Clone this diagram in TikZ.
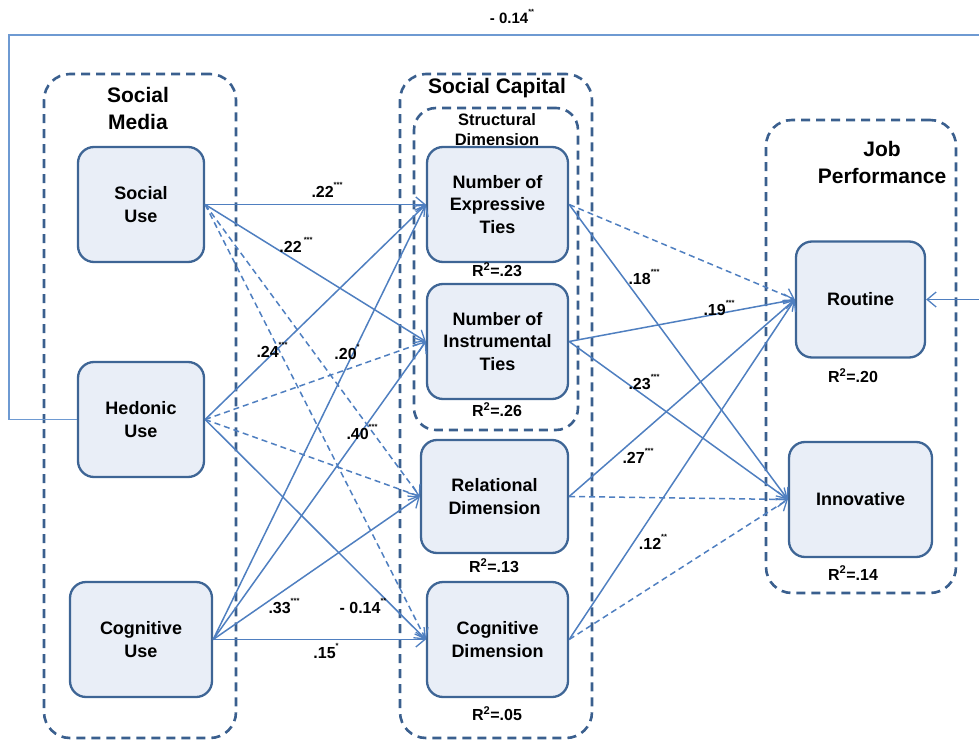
\documentclass[tikz,border=0pt]{standalone}
\usepackage{fontspec}
\setmainfont{Liberation Sans}
\usetikzlibrary{arrows.meta}
\definecolor{boxc}{HTML}{3E6595}
\definecolor{grpc}{HTML}{3A5F8E}
\definecolor{linec}{HTML}{4F7FC0}
\definecolor{toplinec}{HTML}{6E9AD2}
\definecolor{boxfill}{HTML}{E9EEF7}
\newcommand\sigst[1]{\raisebox{.6em}{\fontsize{7.5}{7.5}\selectfont #1}}
\begin{document}
\begin{tikzpicture}[x=1pt,y=-1pt,
  box/.style={draw=boxc, line width=2.3pt, fill=boxfill, rounded corners=16pt,
    font=\bfseries\fontsize{18}{22.5}\selectfont, align=center, inner sep=0pt,
    minimum width=126pt, minimum height=115pt},
  grp/.style={draw=grpc, line width=2.6pt, dash pattern=on 9pt off 6pt,
    rounded corners=26pt, inner sep=0pt},
  gtitle/.style={font=\bfseries\fontsize{21}{27}\selectfont, align=center, inner sep=0pt},
  stitle/.style={font=\bfseries\fontsize{16.5}{20}\selectfont, align=center, inner sep=0pt},
  rsq/.style={font=\bfseries\fontsize{16}{18}\selectfont, inner sep=0pt},
  lab/.style={font=\bfseries\fontsize{16}{18}\selectfont, inner sep=0pt},
  conn/.style={draw=linec, line width=1.5pt, -{Straight Barb[length=9pt,width=15pt,line width=1.3pt]}},
  dconn/.style={conn, dash pattern=on 6pt off 4pt}
]
\useasboundingbox (0,0) rectangle (979,743);

% containers
\node[grp, minimum width=192pt, minimum height=664pt] (gsm) at (140,406) {};
\node[grp, minimum width=192pt, minimum height=664pt] (gsc) at (496,406) {};
\node[grp, minimum width=164pt, minimum height=322pt, rounded corners=22pt] (gsd) at (496,269) {};
\node[grp, minimum width=190pt, minimum height=473pt] (gjp) at (861,356.5) {};

\node[gtitle] (tsm) at (138,108) {Social\\Media};
\node[gtitle] (tsc) at (497,88) {Social Capital};
\node[stitle] (tsd) at (497,130) {Structural\\Dimension};
\node[gtitle] (tjp) at (882,162) {Job\\Performance};

% boxes
\node[box] (su) at (141,204.5) {Social\\Use};
\node[box] (hu) at (141,419.5) {Hedonic\\Use};
\node[box, minimum width=142pt] (cu) at (141,639.5) {Cognitive\\Use};
\node[box, minimum width=141pt] (ex) at (497.5,204.5) {Number of\\Expressive\\Ties};
\node[box, minimum width=141pt] (in) at (497.5,341.5) {Number of\\Instrumental\\Ties};
\node[box, minimum width=147pt, minimum height=113pt] (rel) at (494.5,496.5) {Relational\\Dimension};
\node[box, minimum width=141pt] (cd) at (497.5,639.5) {Cognitive\\Dimension};
\node[box, minimum width=129pt, minimum height=116pt] (rout) at (860.5,299.5) {Routine};
\node[box, minimum width=143pt, minimum height=115pt] (inn) at (860.5,499.5) {Innovative};

% R squared
\node[rsq] (r1) at (497,270) {R\textsuperscript{2}=.23};
\node[rsq] (r2) at (497,410) {R\textsuperscript{2}=.26};
\node[rsq] (r3) at (494,566) {R\textsuperscript{2}=.13};
\node[rsq] (r4) at (497,714) {R\textsuperscript{2}=.05};
\node[rsq] (r5) at (853,376) {R\textsuperscript{2}=.20};
\node[rsq] (r6) at (853,573) {R\textsuperscript{2}=.14};

% left to middle
\draw[conn] (su.east) -- (ex.west);
\draw[conn] (su.east) -- (in.west);
\draw[dconn] (su.east) -- (rel.west);
\draw[dconn] (su.east) -- (cd.west);
\draw[conn] (hu.east) -- (ex.west);
\draw[dconn] (hu.east) -- (in.west);
\draw[dconn] (hu.east) -- (rel.west);
\draw[conn] (hu.east) -- (cd.west);
\draw[conn] (cu.east) -- (ex.west);
\draw[conn] (cu.east) -- (in.west);
\draw[conn] (cu.east) -- (rel.west);
\draw[conn] (cu.east) -- (cd.west);

% middle to right
\draw[dconn] (ex.east) -- (rout.west);
\draw[conn] (ex.east) -- (inn.west);
\draw[conn] (in.east) -- (rout.west);
\draw[conn] (in.east) -- (inn.west);
\draw[conn] (rel.east) -- (rout.west);
\draw[dconn] (rel.east) -- (inn.west);
\draw[conn] (cd.east) -- (rout.west);
\draw[dconn] (cd.east) -- (inn.west);

% feedback path
\coordinate (bl) at (9,419.5);
\coordinate (tl) at (9,35);
\coordinate (tr) at (979,35);
\coordinate (rr) at (979,299.5);
\draw[draw=toplinec, line width=1.8pt] (hu.west) -- (bl) -- (tl) -- (tr);
\draw[conn] (rr) -- (rout.east);

% labels
\node[lab, font=\bfseries\fontsize{15}{17}\selectfont] (l0) at (512,16) {- 0.14\sigst{**}};
\node[lab] (l1) at (327,190) {.22\sigst{***}};
\node[lab] (l2) at (296,245) {.22\sigst{ ***}};
\node[lab] (l3) at (272,350) {.24\sigst{***}};
\node[lab] (l4) at (347,352) {.20\sigst{*}};
\node[lab] (l5) at (362,432) {.40\sigst{***}};
\node[lab] (l6) at (284,606) {.33\sigst{***}};
\node[lab] (l7) at (363,606) {- 0.14\sigst{**}};
\node[lab] (l8) at (326,651) {.15\sigst{*}};
\node[lab] (l9) at (644,277) {.18\sigst{***}};
\node[lab] (l10) at (719,308) {.19\sigst{***}};
\node[lab] (l11) at (644,382) {.23\sigst{***}};
\node[lab] (l12) at (638,456) {.27\sigst{***}};
\node[lab] (l13) at (653,542) {.12\sigst{**}};
\end{tikzpicture}
\end{document}
